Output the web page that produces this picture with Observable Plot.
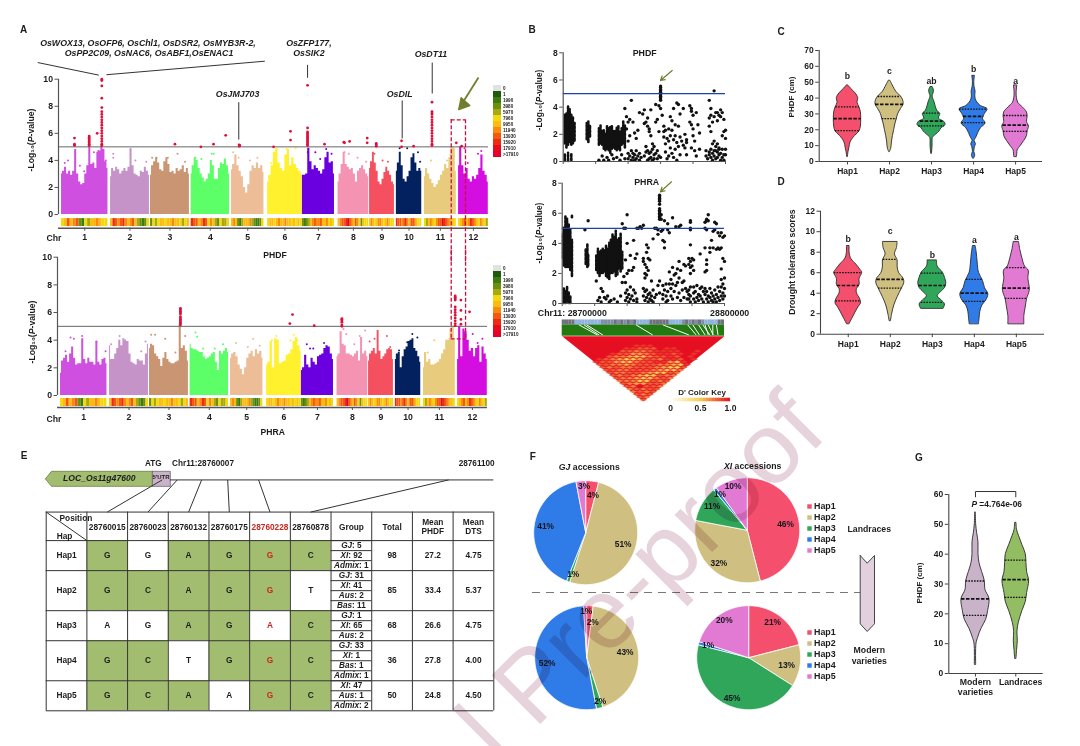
<!DOCTYPE html>
<html><head><meta charset="utf-8">
<script src="https://cdn.jsdelivr.net/npm/d3@7"></script>
<script src="https://cdn.jsdelivr.net/npm/@observablehq/plot@0.6"></script>
<style>
html,body{margin:0;padding:0;background:#fff}
#page{position:relative;width:1080px;height:746px;overflow:hidden;font-family:"Liberation Sans",Arial,sans-serif;font-weight:bold;color:#1c1c1c}
.t{position:absolute;white-space:nowrap;transform:translate(-50%,-50%);line-height:1}
</style></head><body><div id="page"></div>
<script>
// ---------- Panel A data ----------
const chrStart=[0,45.4,82.4,120,157.4,190.8,223,256,285.2,310,336,367.6];
const chrLen=[43,36,36,35.5,30,32,29.7,28.4,23,23.5,29.5,27.5];
const chrColors=["#cf50e0","#c693c9","#c99572","#5cff68","#ecbd97","#fff12e","#6a00e0","#f593b3","#f5505f","#04215f","#e8cb7c","#d40ee0"];
const phdfEnv=[
[3.0,3.2,3.5,3.0,3.2,2.9,3.2,4.8,3.0,2.4,2.2,2.3,3.0,3.6,5.0,3.7,3.8,3.4,4.6,4.7,5.0,4.8,3.9,3.4],
[2.8,3.4,3.2,3.5,3.3,3.0,3.2,3.4,3.2,3.5,4.8,3.6,3.0,2.9,2.8,3.2,3.1,3.5,3.2,2.9],
[2.9,3.6,3.9,4.2,3.8,3.3,3.2,3.9,4.2,3.7,3.1,3.2,3.0,3.4,3.2,3.3,3.6,3.1,3.4,3.0],
[3.0,3.6,4.2,4.0,3.4,3.0,2.7,2.4,2.6,3.0,4.0,3.6,2.6,2.6,3.4,3.8,3.7,4.1,3.6,3.0],
[3.3,3.7,4.4,3.6,3.2,2.8,2.0,1.6,2.2,3.2,3.6,3.4,3.8,3.4,3.6,3.1],
[2.4,2.9,3.6,4.6,4.9,3.8,3.4,3.2,4.4,4.8,3.6,4.2,3.7,3.4,3.2,3.0],
[2.9,2.9,3.0,4.9,3.9,3.3,3.6,3.4,3.2,3.0,3.3,4.2,4.6,3.8,3.9,3.0],
[2.4,3.0,3.7,4.6,3.7,3.5,3.3,3.4,3.0,2.4,3.2,3.4,3.6,3.3,3.0,2.8],
[3.4,3.9,4.6,3.8,3.2,2.4,2.2,2.6,3.1,3.5,3.2,2.9,2.4,2.2],
[3.2,3.8,4.6,3.6,2.6,2.4,2.8,3.2,4.2,4.5,3.8,3.2,3.4,3.2],
[2.8,3.4,3.0,2.6,2.3,2.0,2.2,2.5,2.9,3.2,3.7,3.4,4.2,5.0,4.9,3.2],
[3.6,5.0,3.6,3.0,3.4,2.6,2.4,2.8,2.6,2.9,3.4,4.4,3.2,2.9,2.4]];
const phraEnv=[
[1.6,2.5,2.7,2.9,2.4,3.0,3.5,2.7,2.2,2.3,2.3,4.1,2.6,2.3,2.7,2.4,2.4,2.2,3.9,2.4,2.2,2.6,2.7,2.3],
[3.6,2.6,2.6,3.0,3.4,4.0,3.6,4.1,3.9,3.9,3.0,2.4,2.3,2.2,2.6,2.5,2.5,2.2,3.0,3.7],
[3.4,3.7,3.6,3.0,2.8,2.6,2.1,2.7,3.1,2.6,2.4,2.3,2.3,2.4,2.5,5.2,3.4,3.6,3.2,2.5],
[3.7,3.4,3.3,3.3,3.2,3.1,3.1,2.8,2.6,2.7,2.8,3.0,3.1,2.4,1.8,3.2,3.0,3.2,3.4,3.1],
[2.7,3.0,3.1,2.8,2.2,1.9,1.5,2.0,2.7,3.0,3.2,2.8,3.3,3.0,3.2,2.7],
[2.2,2.4,3.9,2.0,4.1,4.0,2.3,2.4,2.5,2.9,3.0,3.3,3.9,4.2,3.6,3.2],
[1.8,2.0,2.9,2.2,2.0,2.7,2.4,2.2,2.8,2.9,3.0,3.4,3.6,3.5,3.0,2.6],
[2.8,3.0,4.6,3.7,3.6,3.0,3.0,2.9,2.8,3.0,3.2,2.5,4.2,3.0,3.2,2.8],
[2.5,3.0,3.2,3.4,3.0,4.7,3.2,2.6,2.8,3.0,3.3,3.4,3.3,2.6],
[2.6,3.0,3.1,2.0,2.8,3.3,3.5,3.9,4.0,4.1,3.4,3.2,2.8,2.4],
[2.0,3.1,2.4,2.6,2.2,2.2,2.3,2.4,2.6,3.0,3.3,4.0,4.0,4.8,5.0,4.0],
[2.6,5.0,2.8,4.8,4.6,4.0,3.2,3.4,2.8,3.4,3.6,2.4,3.5,3.0,2.6]];
const phdfSparse=[
[[3,3.8],[6,4.0],[17,3.6],[21,3.2],[30,4.6],[34,4.7],[41,4.0]],
[[2.5,4.5],[2.5,4.2],[18.5,4.85],[23,4.0],[33,3.9]],
[[1.5,4.2],[5.5,4.2],[16,4.2],[25,4.5],[32,3.9]],
[[4,4.2],[9.5,4.1],[19,4.5],[21,4.5],[31,4]],
[[1.5,4.6],[6.5,4.2],[17,4],[24,4.2]],
[[3,3.8],[17.5,4.85],[26,4.9]],
[[5,4.6],[12,4.6],[16.5,4.1],[22,4.85],[27,4.5]],
[[6,4.6],[10,4.5],[18,4.2],[26,3.9]],
[[4.5,4.5],[12,4],[17,3.9]],
[[3,4.9],[10,4.9],[20,4.6],[22,3.9]],
[[6,4],[21,4],[24,4.4]],
[[5.5,4.9],[8.5,3.8],[18,4.5],[21,4.7]]];
const phraSparse=[
[[9.3,4.2],[12.3,4.1],[20,4.3],[4.6,3.2],[33.3,3.9],[41.7,3.2]],
[[1.5,3.7],[9.3,4.3],[14.5,4.0],[29.3,3.2],[33.3,3.9]],
[[1.5,4.4],[5.2,4.4],[14.5,4.1],[33,4.3],[24,3.1]],
[[5,4.55],[6.5,4.25],[12,3.4],[22.8,3.4],[30.5,3.7]],
[[5,3.8],[21,4.1],[16,3.5],[27,3.6]],
[[9,4.3],[5,4],[25,4.4],[22,4],[28.4,4]],
[[5,3.7],[8,3.4],[11,3.4],[21,3.8],[25,3.3]],
[[6,4.8],[8.5,4.45],[16,3.7],[26,4.7],[21,4.3]],
[[1,3.9],[5.5,4.1],[17,4.3],[20,3.5]],
[[15.7,4.45],[20.4,4.2],[11,3.85],[3.4,3.25]],
[[10,4],[4,3.1],[21,3.6],[24,4.1]],
[[14,4.45],[23,4.1],[18.5,3.8],[6.5,4]]];
const phdfHits=[
...[10,9.9,9.5,8.6,7.9,7.6,7.4,7.2,7.0,6.8,6.6,6.4,6.2,6.0,5.8,5.6,5.4,5.2,5.1].map(y=>[37.3,y]),
...[5.8,5.7,5.6,5.5,5.4,5.3,5.2,5.1].map(y=>[25.6,y]),
[12,5.65],[12,5.2],[12,5.1],[33,6.0],[105,5.2],[129,5.0],[140.7,5.2],[152,5.85],[164.4,5.15],[165,5.1],[164.6,5.05],[196.3,5.0],[212,6.15],[212,5.5],
...[9.55,6.4,6.1,6.0,5.9,5.8,5.7,5.6,5.5,5.4,5.3,5.2,5.1].map(y=>[227.8,y]),
[243.5,5.2],[261.4,5.35],[262,5.3],[266.7,5.4],[283,5.65],[283,5.3],[291.4,5.25],[291.4,5.15],[291.4,5.05],[314.8,5.45],[314.8,5.0],[326,5.05],
...[8.3,7.6,7.5,7.4,7.2,7.0,6.8,6.6,6.4,6.2,6.0,5.8,5.6,5.4,5.2,5.1].map(y=>[343,y]),
[365.5,5.3],[370.4,5.05]];
const phraHits=[
...[6.3,6.2,6.1,6.0,5.9,5.7,5.6,5.5,5.4,5.3,5.2,5.1].map(y=>[111,y]),
[214.8,5.85],[212.3,5.2],[234.9,5.05],
...[5.55,5.5,5.4,5.3,5.1,5.0].map(y=>[260.5,y]),
...[7.2,7.1,7.0,6.9,6.4,6.2,6.0,5.8,5.6,5.4,5.2,5.05].map(y=>[365.4,y]),
[370.7,6.9],[370.7,6.15],[370.7,5.5],[370.7,5.15],[378.7,6.05]];
const density=[
[5,6,8,6,7,8,3,2,5,4,6,6,7,6,5,5],[6,9,8,7,8,9,7,6,7,8,6,4,3,2,3,5],[3,5,4,5,6,6,5,6,6,7,6,6,5,4,5,6],
[9,8,8,6,7,9,8,5,7,6,4,3,5,4,4,5],[6,7,6,3,2,4,6,6,6,7,4,3,2,2,3,5],[5,6,6,5,6,7,6,6,7,6,6,5,6,5,6,5],
[3,2,3,4,6,7,8,7,7,8,6,6,7,5,6,5],[6,7,8,8,9,11,8,7,6,8,7,5,3,6,5,5],[6,7,6,5,6,7,7,6,5,6,7,6,5,5],
[9,8,8,7,8,9,7,6,8,8,7,6,5,5],[5,4,6,7,6,5,7,8,8,10,9,8,7,6,6,5],[5,6,7,8,6,7,9,8,7,6,5,7,6,5,4]];
const densLabels=["0","1","1990","3980","5970","7960","9950","11940","13930","15920","17910",">17910"];
const densColors=["#e2e2e2","#1d5a0e","#3f7a10","#6c8f10","#a8a810","#f2d90d","#fbbb10","#f98a0e","#f0590e","#ee2a10","#e8091a","#e4002a"];
// ---------- Panel B data (kb from 28700000) ----------
const phdfStems=[[1,1.3,3.4],[2,1,3.5],[3,1.2,4],[4,1.4,3.8],[5,1.2,3.4],[6,1.3,3.2],[7,1.5,2.8],[1,0,.5],[3,0,.6],[5,.05,.5],[14.5,1.6,2.8],[15.5,1.4,2.9],[16.5,1.8,2.6],[22,1.2,2.4],[23,1.3,2.6],[24,1.2,2.2],[25,.9,2.3],[26,.8,2],[27,.9,2.6],[28,.8,2.4],[29,.6,2.5],[30,.9,2.6],[31,1,2.2],[32,.9,2.2],[33,.8,2.5],[34,.9,2.6],[35,.8,2.2],[36,1.2,2.4],[37,1.3,2.9],[38,1,2.6]];
const phdfDots=[[22,.1],[24,.4],[25,.1],[27,.3],[28,.1],[30,.5],[31,.2],[33,.3],[35,.1],[36,.5],[38,.2],[40,.6],[40,.2],[41,.4],[42,.1],[42,.8],[43,.3],[43,.6],[44,.1],[44,.5],[45,.8],[45,.2],[46,.4],[47,.1],[47,.6],[48,.3],[40,1.5],[41,1.9],[39,2.4],[40,2.9],[39,3.3],[38,3.9],[41,3.1],[42,4.5],[43,2.9],[44,2.1],[45,1.7],[46,2.3],[47,3.6],[49,3.5],[50,3.8],[50,2.8],[51,2.9],[52,2.6],[53,2.4],[54,1.9],[51,1.1],[52,.8],[53,.6],[54,.3],[55,.1],[53,.2],[50,.4],[51,.7],[52,.1],[54,.7],[55,.9],[56,.5],[56,.2],[54,3.8],[52,3.2],[53,2.2],[55,1.3],[56,1.1],[57,.6],[58,.2],[59,.4],[58,.8],[60,.3],[57,2.9],[58,3.1],[59,2.2],[60,3.9],[60,4.5],[60,4.6],[60,4.7],[60,4.8],[60,4.9],[60,5.0],[60,5.1],[60,5.2],[60,5.3],[60,5.45],[60,5.55],[59,4.1],[57,4.2],[61,3.4],[62,2.6],[62,1.8],[63,1.3],[63,.7],[64,.2],[65,.4],[65,2.4],[66,1.9],[66,1.0],[67,.6],[67,2.3],[68,1.6],[68,.3],[69,1.9],[69,.9],[70,1.4],[70,.1],[71,2.6],[71,1.1],[72,.5],[72,1.8],[72,3.5],[62,2.2],[63,2.3],[64,1.7],[65,1.5],[66,3.3],[67,3.0],[68,3.9],[69,2.7],[70,4.3],[71,4.2],[73,1.5],[74,1.2],[75,1.0],[75,2.0],[76,.5],[76,1.6],[74,3.9],[76,1.4],[78,4.1],[79,3.9],[78,2.9],[79,2.7],[80,2.4],[80,1.9],[81,1.5],[79,1.0],[81,.8],[82,.4],[82,3.6],[83,2.7],[84,2.1],[84,.9],[80,3.4],[79,3.7],[89,.2],[90,.5],[90,.7],[91,.9],[91,.3],[92,.6],[92,.1],[93,.8],[93,.4],[94,1.1],[94,.2],[95,.7],[95,.3],[96,.9],[96,.5],[97,.1],[97,.6],[98,.3],[98,.9],[99,.5],[99,.1],[90,2.6],[90,3.2],[91,2.2],[91,3.9],[92,2.9],[92,1.3],[93,3.3],[93,1.5],[94,3.6],[94,.8],[95,3.6],[95,3.0],[95,1.3],[96,3.4],[96,1.0],[97,3.8],[97,3.3],[98,3.6],[98,1.9],[99,3.1],[99,2.2],[100,2.3],[100,1.7],[100,.5],[100,.9],[93,5.2],[90,4.5],[91,3.4],[88,.8],[88,.4]];
const phraStems=[[1,0,1],[2,0,.8],[3,.1,1.1],[4,0,.7],[5,0,.5],[1,2.5,5],[2,2.4,5.8],[3,2.4,5.6],[4,2.4,5.3],[5,2.2,4.9],[6,1.8,4.2],[.5,3,4.6],[6,5.7,5.8],[14.5,2.6,3.6],[15.5,2.4,3.9],[16,2.5,3.2],[21,2.2,3.2],[22,2,3.6],[23,1.8,3.4],[24,2,3.5],[25,2,3.6],[26,2.1,3.5],[27,1.8,3.8],[28,1.7,3.6],[29,1.6,4],[30,2,4.2],[31,2,4.6],[32,2.1,4.4],[33,1.8,4.8],[34,1.9,4.2],[35,2.3,4.3],[36,2.1,4.6],[37,2.3,3.4]];
const phraDots=[[14,4.9],[16,5.5],[21,1.5],[22,.2],[23,.4],[24,1.0],[24,.1],[25,.8],[26,.4],[27,.3],[28,.5],[29,.1],[30,.2],[32,.3],[34,.1],[36,.5],[37,1.4],[38,1.8],[39,.2],[39,.7],[40,.4],[40,.9],[41,.1],[41,.6],[42,.3],[42,1.1],[43,.5],[44,.2],[44,.9],[45,.7],[46,.3],[46,.1],[39,1.4],[40,2.0],[41,2.2],[42,3.2],[43,2.2],[44,2.4],[45,3.0],[39,5.0],[39,2.9],[40,5.9],[40,4.0],[37,5.3],[38,5.0],[46,3.3],[44,4.2],[46,5.0],[47,5.0],[48,5.1],[49,5.0],[50,5.2],[50,3.0],[50,2.8],[51,2.6],[51,2.0],[51,1.7],[52,2.4],[52,1.9],[52,3.4],[53,2.2],[53,3.0],[54,2.9],[55,1.5],[50,.5],[51,.2],[51,.8],[52,.4],[52,.9],[53,.6],[53,.1],[54,.3],[54,.7],[55,.2],[55,.5],[56,.1],[57,.4],[50,1.0],[53,3.7],[52,3.9],[56,.9],[58,.6],[59,1.2],[60,.7],[58,5.0],[59,4.9],[59,4.6],[57,5.0],[56,4.3],[60,5.6],[60,5.7],[60,5.8],[60,5.9],[60,6.0],[60,6.1],[60,6.2],[60,6.3],[60,6.6],[60,6.8],[60,6.9],[60,7.0],[60,7.1],[60,7.2],[61,5.9],[61,5.6],[61,4.8],[62,4.9],[62,4.2],[63,4.1],[63,3.7],[63,5.5],[65,4.9],[65,5.3],[66,4.7],[68,5.7],[70,5.1],[72,5.1],[73,5.2],[60,1.5],[62,1.2],[62,.6],[62,.3],[63,.9],[64,1.3],[64,.1],[64,.5],[65,.2],[65,.8],[66,1.3],[66,2.1],[67,.5],[67,1.0],[67,1.6],[68,2.4],[68,1.3],[68,.3],[69,1.9],[69,.8],[70,1.2],[70,2.0],[71,1.4],[71,2.3],[71,.4],[72,2.8],[72,1.7],[72,.7],[73,2.2],[73,.2],[74,1.4],[74,.9],[75,2.6],[75,1.5],[75,.4],[76,1.0],[76,2.5],[77,.3],[77,.8],[78,.3],[78,.6],[78,.9],[79,.1],[79,.5],[79,1.1],[78,2.6],[78,3.0],[79,2.8],[79,2.0],[79,2.4],[80,2.5],[80,3.0],[81,2.9],[81,2.2],[79,3.9],[79,5.5],[79,5.4],[79,5.0],[79,4.9],[81,.7],[81,.3],[81,1.1],[82,.1],[82,.8],[83,.4],[83,1.2],[84,.6],[84,.2],[85,1.0],[85,.5],[86,1.1],[86,.3],[85,3.3],[87,.8],[87,.1],[88,.6],[88,1.0],[89,.3],[89,.8],[90,.1],[90,.5],[91,.4],[91,1.0],[92,.2],[92,.7],[93,.5],[93,.1],[94,.3],[94,.9],[95,.6],[95,.1],[96,.4],[96,1.1],[97,.2],[97,.8],[98,.5],[98,1.1],[99,.3],[99,.7],[100,1.0],[100,.5],[100,1.7],[99,1.3],[98,1.6],[88,5.0],[88,5.4],[89,5.5],[89,5.6],[90,5.9],[90,5.5],[89,4.9],[88,3.7],[89,2.9],[89,2.6],[88,2.1],[89,2.2],[91,3.4],[91,3.7],[92,4.2],[93,3.7],[93,4.8],[94,4.9],[94,5.4],[95,3.6],[95,5.3],[96,3.7],[96,4.7],[97,3.6],[98,3.7],[97,4.5],[98,4.7],[99,4.4],[100,4.5],[99,3.0],[100,2.8],[98,2.3]];
const snpStrip="ggggbbbbbbbbmmmmgmgmgmgbbbbggggggbbbbmgmgmgmbbbbgg";
const ldLinks=[[10.3,21.6],[13.4,22.7],[15,25],[45.4,55.7],[62,78],[77.3,82.5],[80.4,84.5],[84,88],[86.6,91],[88,90],[92.8,92.8],[90,93],[95,96]];
const ldRows=["999999999999999999999999","99999999999999999999999","9999999999999999999999","999999999888999999999","99999998877798899999","9999997766788889989","999987755678878989","99976654467787989","9876544577688798","877544677885489","77665677766548","7676677765447","776677765446","76677654476","7676544766","766544676","66644767","7655776","769776","67677","6767","767","76","7"];
// ---------- Panels C, D, G data ----------
const haps=["Hap1","Hap2","Hap3","Hap4","Hap5"];
const hapColors=["#f4506e","#cfbf80","#2fa65a","#2f7be8","#e27ad3"];
const violinC=[
[[3,1],[6,3],[9,6],[12,9],[15,18],[17,27],[19,36],[22,40],[27,41],[31,40],[34,36],[37,30],[40,32],[43,24],[46,10],[48,2]],
[[6,1],[8,5],[12,7],[16,10],[20,14],[24,18],[27,22],[30,26],[33,34],[36,42],[39,40],[41,34],[44,20],[47,12],[49,7],[51,2]],
[[5,1],[7,2],[10,3],[13,3],[15,4],[17,14],[19,24],[21,30],[23,42],[25,38],[27,22],[30,26],[32,17],[35,12],[38,8],[41,3],[43,6],[45,7],[47,3]],
[[2,2],[4,5],[6,2],[9,4],[11,7],[13,3],[15,8],[18,14],[21,22],[24,36],[27,28],[30,34],[33,42],[35,22],[38,9],[41,5],[44,6],[47,3],[50,2],[54,4]],
[[3,4],[5,5],[7,6],[10,16],[13,26],[16,34],[19,36],[22,40],[25,34],[28,36],[31,34],[34,22],[37,8],[40,4],[43,3],[46,4],[48,5]]];
const quartC=[[19.5,27,34.5],[27,36,41],[22.5,25.5,30.5],[24.5,28.5,33],[19,23,29]];
const lettersC=["b","c","ab","b","a"], letterYC=[53.7,56.8,50.5,58,50.5];
const violinD=[
[[1,4],[1.5,12],[2,20],[2.6,30],[3,38],[3.4,36],[4,26],[4.4,26],[4.8,34],[5.4,34],[6,42],[6.3,36],[6.8,24],[7.3,10],[7.6,6],[8,4],[8.6,4]],
[[1.3,2],[2,6],[2.8,12],[3.6,22],[4.4,34],[5,42],[5.4,40],[6,26],[6.6,22],[7.2,22],[7.8,14],[8.4,20],[9,22]],
[[2.5,34],[2.9,38],[3.3,28],[3.7,16],[4.1,26],[4.5,38],[5,42],[5.5,38],[6,32],[6.6,16],[7.2,14]],
[[1,14],[1.6,16],[2.2,18],[2.8,24],[3.3,36],[3.9,42],[4.5,32],[5.2,26],[6,14],[7,10],[8,7],[8.6,4]],
[[1,24],[1.8,24],[2.6,28],[3.4,32],[4.2,40],[4.6,40],[5.4,36],[6.2,37],[6.6,26],[7.4,18],[8.2,12],[9,8]]];
const quartD=[[3.25,4.75,6],[4.5,5.35,7.3],[3.1,4.75,5.95],[3.2,4,5.35],[3.5,4.5,6.5]];
const lettersD=["b","c","b","a","a"], letterYD=[9.3,10,7.7,9.15,9.45];
const violinG=[
[[3,2],[10,3],[12,8],[15,18],[18,32],[21,38],[25,42],[28,30],[31,28],[34,20],[37,12],[40,9],[44,9],[47,5],[50,2],[54,1]],
[[5,2],[8,4],[11,6],[14,5],[17,9],[21,20],[24,30],[27,34],[31,40],[34,34],[37,32],[40,30],[43,20],[46,10],[48,4],[50.5,2]]];
const quartG=[[19.5,25,31],[25.5,31.5,38]];
const groupColorsG=["#c9b3c9","#92bd62"];
// ---------- Panel E data ----------
const snpPos=["28760015","28760023","28760132","28760175","28760228","28760878"];
const alleles=[["G","G","A","G","G","C"],["G","C","A","G","G","T"],["A","G","A","G","A","C"],["G","C","T","G","G","C"],["G","C","A","A","G","C"]];
const greenCell=[[1,0,1,1,1,1],[1,1,1,1,1,0],[0,0,1,1,0,1],[1,1,0,1,1,1],[1,1,1,0,1,1]];
const hapLines=[3,4,3,4,3];
const groups=[["*GJ*: 5","*XI*: 92","*Admix*: 1"],["*GJ*: 31","*XI*: 41","*Aus*: 2","*Bas*: 11"],["*GJ*: 1","*XI*: 65","*Aus*: 2"],["*GJ*: 33","*XI*: 1","*Bas*: 1","*Admix*: 1"],["*XI*: 47","*Aus*: 1","*Admix*: 2"]];
const totals=["98","85","68","36","50"], meanPHDF=["27.2","33.4","26.6","27.8","24.8"], meanDTS=["4.75","5.37","4.75","4.00","4.50"];
// ---------- Panel F data ----------
const pieGJL=[4,51,1,41,3], pieXIL=[46,32,11,1,10], pieGJM=[2,43,2,52,1], pieXIM=[21,13,45,1,20];

// ---------- helpers ----------
const page=document.getElementById("page");
function place(svg,left,top,extra={}){Object.assign(svg.style,{position:"absolute",left:left+"px",top:top+"px",maxWidth:"none",height:svg.getAttribute("height")+"px",overflow:"visible",background:"transparent"},extra);
  svg.querySelectorAll("text").forEach(t=>{if(t.textContent.includes("*")&&!t.querySelector("tspan")){t.innerHTML=t.textContent.replace(/\*(.+?)\*/g,'<tspan font-style="italic">$1</tspan>')}});
  page.appendChild(svg);return svg}
function txt(html,x,y,size=8.7,opt={}){const d=document.createElement("div");d.className="t";d.innerHTML=html;
  d.style.left=x+"px";d.style.top=y+"px";d.style.fontSize=size+"px";
  if(opt.italic)d.style.fontStyle="italic";
  if(opt.rotate)d.style.transform=`translate(-50%,-50%) rotate(${opt.rotate}deg)`;
  page.appendChild(d)}
const base={fontFamily:"Liberation Sans, Arial, sans-serif",fontWeight:"bold",fontSize:"8.5px",color:"#1c1c1c"};
const AX="#555";

// ---------- Panel A ----------
function manhattan({env,sparse,hits,top,height,mL,mR,mT,mB,axisY,stripY,box,extra=[]}){
  const marks=[];
  env.forEach((vals,c)=>{
    const rows=vals.map((y,i)=>({x:chrStart[c]+i*chrLen[c]/(vals.length-1),y}));
    marks.push(Plot.areaY(rows,{x:"x",y:"y",fill:chrColors[c],curve:"step"}));
    marks.push(Plot.dot(sparse[c].map(([p,y])=>({x:chrStart[c]+p,y})),{x:"x",y:"y",r:1,fill:chrColors[c]}));
  });
  const cells=density.flatMap((lv,c)=>lv.map((l,i)=>({x1:chrStart[c]+i*chrLen[c]/lv.length,x2:chrStart[c]+(i+1)*chrLen[c]/lv.length,l})));
  marks.push(Plot.rect(cells,{x1:"x1",x2:"x2",y1:stripY[0],y2:stripY[1],fill:"l"}));
  marks.push(Plot.ruleY([5],{stroke:"#666",strokeWidth:1}));
  marks.push(Plot.dot(hits,{x:d=>d[0],y:d=>d[1],r:1.4,fill:"#df0f3a"}));
  marks.push(Plot.ruleX([-2.8],{y1:0,y2:10,stroke:AX,strokeWidth:1.2}));
  marks.push(Plot.ruleY([axisY],{stroke:AX,strokeWidth:1.4}));
  marks.push(Plot.axisY({ticks:[0,2,4,6,8,10],tickSize:3.5,tickPadding:2,label:null,stroke:AX,fontSize:8.7}));
  marks.push(Plot.axisX({ticks:chrStart.map((s,i)=>s+chrLen[i]/2),tickFormat:d=>chrStart.findIndex((s,i)=>Math.abs(s+chrLen[i]/2-d)<.01)+1,tickSize:3,tickPadding:3,label:null,stroke:AX,fontSize:8.7}));
  marks.push(...box,...extra);
  return place(Plot.plot({width:520,height,marginLeft:mL,marginRight:mR,marginTop:mT,marginBottom:mB,style:base,
    x:{domain:[-2.8,395.3]},y:{domain:[axisY,10]},color:{type:"ordinal",domain:d3.range(12),range:densColors},marks}),0,top);
}
const dashRed={stroke:"#c8103e",strokeWidth:1.3,strokeDasharray:"4,2"};
const geneLinks=[
 {x1:-22,y1:11.23,x2:34.5,y2:10.3},{x1:41.6,y1:10.33,x2:188.2,y2:11.33},{x1:227.8,y1:11.06,x2:227.8,y2:10.1},
 {x1:343.2,y1:11.23,x2:343.2,y2:8.94},{x1:164.1,y1:8.3,x2:164.1,y2:5.54},{x1:315.4,y1:8.43,x2:315.4,y2:5.62}];
const geneNames=[["OsWOX13, OsOFP6, OsChl1, OsDSR2, OsMYB3R-2,",80,12.65],["OsPP2C09, OsNAC6, OsABF1,OsENAC1",81,11.9],["OsZFP177,",229,12.65],["OsSIK2",229,11.9],["OsDT11",342,11.83],["OsJMJ703",163,8.87],["OsDIL",313,8.87]];
manhattan({env:phdfEnv,sparse:phdfSparse,hits:phdfHits,top:20,height:242,mL:58,mR:32,mT:58.7,mB:34.3,axisY:-1.01,stripY:[-.89,-.3],
 box:[Plot.ruleX([360.8,374],{y1:7,y2:-3.5,...dashRed}),Plot.ruleY([7],{x1:360.8,x2:374,...dashRed})],
 extra:[Plot.link(geneLinks,{x1:"x1",y1:"y1",x2:"x2",y2:"y2",stroke:"#333",strokeWidth:1}),
   Plot.text(geneNames,{x:d=>d[1],y:d=>d[2],text:d=>d[0],fontSize:8.8,fontStyle:"italic"})]});
manhattan({env:phraEnv,sparse:phraSparse,hits:phraHits,top:250,height:190,mL:57,mR:33,mT:6.7,mB:33,axisY:-.87,stripY:[-.8,-.22],
 box:[Plot.ruleX([361.7,375],{y1:10.5,y2:4.1,...dashRed}),Plot.ruleY([4.1],{x1:361.7,x2:375,...dashRed})]});
function densLegend(top){
  return place(Plot.plot({width:30,height:72,margin:0,marginRight:22,style:base,x:{domain:[0,1],axis:null},y:{domain:densLabels,type:"band",padding:0,axis:null},
    color:{domain:densLabels,range:densColors,type:"ordinal"},
    marks:[Plot.barX(densLabels,{y:d=>d,x:1,fill:d=>d}),Plot.text(densLabels,{y:d=>d,x:1,text:d=>d,textAnchor:"start",dx:1.5,fontSize:4.6})]}),492.5,top);
}
densLegend(85);densLegend(265);
txt("-Log₁₀(<i>P</i>-value)",30.7,140,8.7,{rotate:-90});txt("-Log₁₀(<i>P</i>-value)",31.7,331.7,8.7,{rotate:-90});
txt("Chr",54,238,8.7);txt("Chr",54,418.7,8.7);txt("PHDF",275,254.7,8.6);txt("PHRA",272.7,432,8.6);

// ---------- Panel B ----------
function snpPlot({stems,dots,left,top,height,mL,mR,mT,mB}){
  return place(Plot.plot({width:215,height,marginLeft:mL,marginRight:mR,marginTop:mT,marginBottom:mB,style:base,x:{domain:[0,100]},y:{domain:[0,8]},
   marks:[
    Plot.ruleX(stems,{x:d=>d[0],y1:d=>d[1],y2:d=>d[2],stroke:"#111",strokeWidth:2.6,strokeLinecap:"round",strokeDasharray:"2.4,1.6"}),
    Plot.dot(dots,{x:d=>d[0],y:d=>d[1],r:1.7,fill:"#111"}),
    Plot.ruleY([5],{stroke:"#1e42a8",strokeWidth:1.3}),
    Plot.ruleX([0],{y1:0,y2:8,stroke:AX,strokeWidth:1.2}),
    Plot.ruleY([0],{stroke:AX,strokeWidth:1.2}),
    Plot.axisY({ticks:[0,2,4,6,8],tickSize:3.5,tickPadding:2,label:null,stroke:AX}),
    Plot.axisX({ticks:[0,20,40,60,80,100],tickFormat:()=>"",tickSize:3,label:null,stroke:AX})]}),left,top);
}
snpPlot({stems:phdfStems,dots:phdfDots,left:520,top:40,height:135,mL:42.7,mR:10,mT:12.3,mB:14});
snpPlot({stems:phraStems,dots:phraDots,left:520,top:170,height:145,mL:41.7,mR:11,mT:12.7,mB:12});
txt("PHDF",644.7,53,8.8);txt("PHRA",646.7,181.7,8.8);
txt("-Log₁₀(<i>P</i>-value)",539,100,8.4,{rotate:-90});txt("-Log₁₀(<i>P</i>-value)",539,233,8.4,{rotate:-90});
txt("Chr11: 28700000",572.3,313,8.8);txt("28800000",729.7,313,8.8);
const N=ldRows.length;
const ldCells=ldRows.flatMap((row,r)=>[...row].flatMap((ch,c)=>{
  const v=(+ch+1)/10; if(v===1)return [];
  const cx=(c+r/2+.5)/N*100,d=(r+.5)/N,id=r*100+c;
  return [[cx-50/N,d],[cx,d-.5/N],[cx+50/N,d],[cx,d+.5/N],[cx-50/N,d]].map(([x,y])=>({x,y,id,v}));
}));
const ldTri=[{x:0,y:0},{x:100,y:0},{x:50,y:1},{x:0,y:0}];
const ldColor={type:"linear",domain:[0,.5,1],range:["#ffffff","#f3cf55","#e60f22"]};
const stripColor={g:"#70717f",b:"#8fb3df",m:"#7f8da8"};
place(Plot.plot({width:215,height:90,marginLeft:41.7,marginRight:11,marginTop:20.7,marginBottom:4.3,style:base,x:{domain:[0,100],axis:null},y:{domain:[1,0],axis:null},color:ldColor,
  marks:[
   Plot.line(ldTri,{x:"x",y:"y",fill:"#e60f22",stroke:"none"}),
   Plot.line(ldCells,{x:"x",y:"y",z:"id",fill:"v",stroke:"v",strokeWidth:.3}),
   Plot.rect([0],{x1:0,x2:100,y1:-.175,y2:0,fill:"#237a10"}),
   Plot.link(ldLinks,{x1:d=>d[0],x2:d=>d[1],y1:-.175,y2:-.02,stroke:"#fff",strokeWidth:1}),
   ...[...snpStrip].map((ch,i)=>Plot.rect([i],{x1:i*2,x2:i*2+2,y1:-.25,y2:-.175,fill:stripColor[ch]}))
  ]}),520,315);
const keyVals=d3.range(0,1,.05);
place(Plot.plot({width:80,height:25,marginLeft:10,marginRight:10,marginTop:5.7,marginBottom:15.7,style:base,x:{domain:[0,1]},y:{domain:[0,1],axis:null},color:ldColor,
  marks:[Plot.rect(keyVals,{x1:d=>d,x2:d=>d+.05,y1:0,y2:1,fill:d=>d+.025}),Plot.axisX({ticks:[0,.5,1],tickFormat:d=>d===1?"1.0":String(d),tickSize:0,tickPadding:3,label:null})]}),660,392);
txt("D' Color Key",702,392.7,8);

// ---------- Panels C, D, G ----------
function violin({profiles,quarts,colors,wUnit,xd,yd,yTicks,left,top,width,height,mL,mR,mT,mB,xLabels,extra=[]}){
  const marks=[];
  profiles.forEach((p,i)=>{
    const c=i+1,rows=p.map(([y,w])=>({y,a:c-w/wUnit,b:c+w/wUnit}));
    marks.push(Plot.area(rows,{x1:"a",x2:"b",y1:"y",y2:"y",fill:colors[i],stroke:"#2b2b2b",strokeWidth:.9,curve:"catmull-rom"}));
    const hw=y=>{const k=d3.bisector(d=>d[0]).right(p,y);const a=p[Math.max(0,k-1)],b=p[Math.min(p.length-1,k)];return b[0]===a[0]?a[1]:a[1]+(b[1]-a[1])*(y-a[0])/(b[0]-a[0])};
    quarts[i].forEach((q,j)=>marks.push(Plot.ruleY([q],{x1:c-hw(q)/wUnit,x2:c+hw(q)/wUnit,stroke:"#111",strokeWidth:j===1?1.7:1.3,strokeDasharray:j===1?"3.5,1.5":"1.6,1.2"})));
  });
  marks.push(Plot.ruleX([xd[0]],{y1:yd[0],y2:yd[1],stroke:"#444",strokeWidth:1.1}),Plot.ruleY([yd[0]],{stroke:"#444",strokeWidth:1.1}),
    Plot.axisY({ticks:yTicks,tickSize:3.5,tickPadding:2,label:null,stroke:"#444"}),
    Plot.axisX({ticks:d3.range(1,profiles.length+1),tickFormat:xLabels,tickSize:3.5,tickPadding:3,label:null,stroke:"#444"}),...extra);
  return place(Plot.plot({width,height,marginLeft:mL,marginRight:mR,marginTop:mT,marginBottom:mB,style:base,x:{domain:xd},y:{domain:yd},marks}),left,top);
}
const hapIdx=[1,2,3,4,5];
violin({profiles:violinC,quarts:quartC,colors:hapColors,wUnit:126,xd:[.326,5.64],yd:[0,70],yTicks:d3.range(0,71,10),left:770,top:40,width:310,height:145,mL:48.7,mR:38,mT:10,mB:24,xLabels:d=>haps[d-1],
  extra:[Plot.text(hapIdx,{x:d=>d,y:d=>letterYC[d-1],text:d=>lettersC[d-1],fontSize:8.7})]});
violin({profiles:violinD,quarts:quartD,colors:hapColors,wUnit:126,xd:[.34,5.67],yd:[0,12],yTicks:d3.range(0,13,2),left:770,top:200,width:310,height:155,mL:50,mR:36,mT:10.7,mB:21.3,xLabels:d=>haps[d-1],
  extra:[Plot.text(hapIdx,{x:d=>d,y:d=>letterYD[d-1],text:d=>lettersD[d-1],fontSize:8.7})]});
const gLabels=[[1,"Modern\nvarieties"],[2.12,"Landraces"]];
violin({profiles:violinG,quarts:quartG,colors:groupColorsG,wUnit:121,xd:[.338,2.68],yd:[0,60],yTicks:d3.range(0,61,10),left:900,top:480,width:180,height:225,mL:48.3,mR:37.3,mT:14,mB:32,xLabels:()=>"",
  extra:[Plot.line([[1,59.2],[1,61],[2,61],[2,59.2]],{x:d=>d[0],y:d=>d[1],stroke:"#333",strokeWidth:1}),
    Plot.text(gLabels,{x:d=>d[0],y:0,dy:4,lineAnchor:"top",text:d=>d[1],fontSize:8.7,lineHeight:1.2})]});
txt("<i>P</i> =4.764e-06",996.7,503.7,8.4);
txt("PHDF (cm)",791.7,97.3,8,{rotate:-90});txt("Drought tolerance scores",791.7,262,8.7,{rotate:-90});txt("PHDF (cm)",920,583,8,{rotate:-90});

// ---------- Panel E ----------
(function(){
  const rowStart=hapLines.map((_,i)=>d3.sum(hapLines.slice(0,i)));
  const cellsE=[],letters=[],hapText=[],groupText=[],groupLines=[];
  alleles.forEach((a,r)=>{
    const y1=rowStart[r],y2=y1+hapLines[r],m=(y1+y2)/2;
    a.forEach((al,c)=>{
      if(greenCell[r][c])cellsE.push({x1:c+1,x2:c+2,y1,y2});
      letters.push({x:c+1.5,y:m,t:al,red:c===4});
    });
    hapText.push({x:.5,y:m,t:haps[r]},{x:8.5,y:m,t:totals[r]},{x:9.5,y:m,t:meanPHDF[r]},{x:10.5,y:m,t:meanDTS[r]});
    groups[r].forEach((g,k)=>{groupText.push({x:7.5,y:y1+k+.5,t:g});groupLines.push(y1+k)});
  });
  const header=[...snpPos.map((p,i)=>({x:i+1.5,y:-1.4,t:p,red:i===4})),{x:7.5,y:-1.4,t:"Group"},{x:8.5,y:-1.4,t:"Total"},{x:9.5,y:-1.4,t:"Mean\nPHDF"},{x:10.5,y:-1.4,t:"Mean\nDTS"},{x:.73,y:-2.3,t:"Position"},{x:.45,y:-.5,t:"Hap"}];
  const gene=[[-.02,-6.17],[.13,-6.92],[2.61,-6.92],[2.61,-5.42],[.13,-5.42],[-.02,-6.17]];
  const utr=[[2.61,-6.92],[3.05,-6.92],[3.05,-5.42],[2.61,-5.42],[2.61,-6.92]];
  const snpTop=[2.85,3.22,3.82,4.46,5.22,9.89];
  place(Plot.plot({width:520,height:270,marginLeft:45.7,marginRight:26.7,marginTop:0,marginBottom:9.7,style:base,x:{domain:[0,11],axis:null},y:{domain:[17,-9],axis:null},
   marks:[
    Plot.rect(cellsE,{x1:"x1",x2:"x2",y1:"y1",y2:"y2",fill:"#a2bd6f"}),
    Plot.ruleX(d3.range(0,12),{y1:-2.85,y2:17,stroke:"#333",strokeWidth:1}),
    Plot.ruleY([-2.85,0,3,7,10,14,17],{x1:0,x2:11,stroke:"#333",strokeWidth:1}),
    Plot.ruleY(groupLines,{x1:7,x2:8,stroke:"#333",strokeWidth:1}),
    Plot.link([0],{x1:0,y1:-2.85,x2:1,y2:0,stroke:"#333",strokeWidth:1}),
    Plot.line(gene,{x:d=>d[0],y:d=>d[1],fill:"#a2bd6f",stroke:"#6a7f45",strokeWidth:.8}),
    Plot.line(utr,{x:d=>d[0],y:d=>d[1],fill:"#c9b3c9",stroke:"#6a6a6a",strokeWidth:.8}),
    Plot.ruleY([-6.06],{x1:3.05,x2:11,stroke:"#333",strokeWidth:1}),
    Plot.link(snpTop,{x1:d=>d,y1:-6.06,x2:(d,i)=>i+1.5,y2:-2.85,stroke:"#333",strokeWidth:1}),
    Plot.text(letters,{x:"x",y:"y",text:"t",fill:d=>d.red?"#c9281f":"#1c1c1c",fontSize:8.3}),
    Plot.text(hapText,{x:"x",y:"y",text:"t",fontSize:8.3}),
    Plot.text(groupText,{x:"x",y:"y",text:"t",fontSize:8.2}),
    Plot.text(header,{x:"x",y:"y",text:"t",fill:d=>d.red?"#c9281f":"#1c1c1c",fontSize:8.3,lineHeight:1.15})
   ]}),0,450);
  txt("ATG",153.3,464,8.2);txt("Chr11:28760007",203,464,8.2);txt("28761100",476.7,464,8.2);
  txt("LOC_Os11g47600",99.3,478,8.6,{italic:true});txt("5'UTR",161,477,6);
})();

// ---------- Panel F ----------
function pie(vals,labels,cx,cy,r){
  let cum=0;const rows=[];
  vals.forEach((v,i)=>{
    const a0=cum/100*2*Math.PI,a1=(cum+v)/100*2*Math.PI;cum+=v;
    rows.push({x:0,y:0,h:haps[i]});
    const n=Math.max(2,Math.ceil(v*1.5));
    for(let k=0;k<=n;k++){const a=a0+(a1-a0)*k/n;rows.push({x:Math.sin(a),y:Math.cos(a),h:haps[i]})}
    rows.push({x:0,y:0,h:haps[i]});
  });
  const s=r*2.2;
  place(Plot.plot({width:s,height:s,margin:0,style:base,x:{domain:[-1.1,1.1],axis:null},y:{domain:[-1.1,1.1],axis:null},color:{domain:haps,range:hapColors},
    marks:[Plot.line(rows,{x:"x",y:"y",z:"h",fill:"h",stroke:"#fff",strokeWidth:.8}),
      Plot.text(vals,{x:(d,i)=>labels[i][0],y:(d,i)=>labels[i][1],text:d=>d+"%",fontSize:8.4,fill:"#15151c"})]}),cx-s/2,cy-s/2);
}
pie(pieGJL,[[.14,.71],[.72,-.22],[-.24,-.80],[-.77,.12],[-.03,.89]],585.3,532.3,52);
pie(pieXIL,[[.73,.11],[-.54,-.62],[-.67,.45],[-.52,.68],[-.27,.83]],746.7,530,52.5);
pie(pieGJM,[[.115,.69],[.74,.10],[.26,-.83],[-.76,-.10],[-.01,.90]],585.7,656.7,52);
pie(pieXIM,[[.46,.69],[.73,-.15],[-.32,-.79],[-.78,.24],[-.47,.71]],748,656.7,52);
function hapLegend(top){
  place(Plot.plot({width:45,height:59,margin:0,style:base,x:{domain:[0,45],axis:null},y:{type:"band",domain:haps,axis:null},color:{domain:haps,range:hapColors},
   marks:[Plot.dot(haps,{x:()=>4,y:d=>d,symbol:"square",r:2.5,fill:d=>d}),Plot.text(haps,{x:()=>8.5,y:d=>d,text:d=>d,textAnchor:"start",fontSize:8.9})]}),805,top);
}
hapLegend(497.5);hapLegend(623.8);
txt("<i>GJ</i> accessions",589.3,467,8.7);txt("<i>XI</i> accessions",752.7,466,8.7);
txt("Landraces",869.3,529.3,8.7);txt("Modern",869.3,650,8.7);txt("varieties",869.3,660.5,8.7);

// ---------- Panel letters ----------
[["A",23.5,30],["B",532,30],["C",781,31.7],["D",781,181.7],["E",24,456],["F",532.7,457],["G",919,458]].forEach(([l,x,y])=>txt(l,x,y,10));

// ---------- Annotation layer ----------
const arrowBig={x1:478,y1:77,x2:461,y2:104};
const bigHead=[[458.3,109],[460.7,97.3],[469.3,105],[458.3,109]];
const smallArrows=[{x1:671.7,y1:70,x2:660,y2:80},{x1:671,y1:181.3,x2:660,y2:191.3}];
const downArrow=[[859.7,555],[866.7,562.7],[874,555],[874,623.3],[866.7,631],[859.7,623.3],[859.7,555]];
const ident={x:{domain:[0,1080],axis:null},y:{domain:[746,0],axis:null}};
place(Plot.plot({width:1080,height:746,margin:0,style:base,...ident,marks:[
  Plot.link([arrowBig],{x1:"x1",y1:"y1",x2:"x2",y2:"y2",stroke:"#6f7f2e",strokeWidth:1.8}),
  Plot.line(bigHead,{x:d=>d[0],y:d=>d[1],fill:"#6f7f2e",stroke:"#6f7f2e"}),
  Plot.arrow(smallArrows,{x1:"x1",y1:"y1",x2:"x2",y2:"y2",stroke:"#6f7f2e",strokeWidth:1.2,headLength:6,bend:0,inset:0}),
  Plot.ruleY([592],{x1:532,x2:860,stroke:"#777",strokeWidth:1.2,strokeDasharray:"8,6"}),
  Plot.line(downArrow,{x:d=>d[0],y:d=>d[1],fill:"#e3d0de",stroke:"#444",strokeWidth:1})
]}),0,0);
place(Plot.plot({width:1080,height:746,margin:0,style:{...base,fontWeight:"normal"},...ident,marks:[
  Plot.text(["l Pre-proof"],{x:()=>641,y:()=>577,rotate:-45,fontSize:100,fill:"#e6d3db"})
]}),0,0,{mixBlendMode:"multiply"});
</script></body></html>
